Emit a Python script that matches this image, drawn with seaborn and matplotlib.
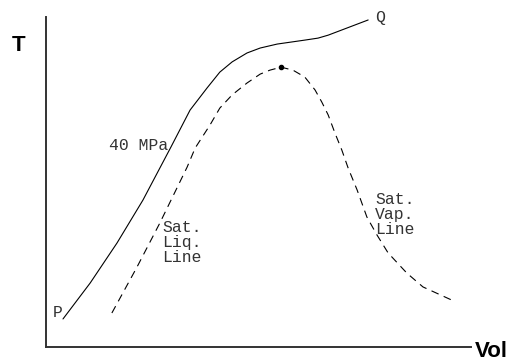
import numpy as np
import pandas as pd
import matplotlib
matplotlib.use('Agg')
import matplotlib.pyplot as plt
import seaborn as sns

# 40 MPa isobar (P -> Q)
iso_vol = [4.0, 10.4, 16.7, 22.8, 29.4, 33.9, 37.9, 40.9, 43.8, 47.3, 50.4, 54.4, 60.9, 64.0, 66.4, 75.8]
iso_T = [8.5, 19.4, 31.5, 44.5, 60.6, 71.8, 78.5, 83.3, 86.4, 89.1, 90.6, 91.8, 93.0, 93.6, 94.5, 99.1]

# saturation dome (liquid side -> critical point -> vapour side)
sat_vol = [15.5, 21.4, 26.8, 33.2, 35.1, 38.6, 40.9, 43.8, 47.3, 50.4, 52.7, 55.3, 58.1, 60.9,
           63.3, 64.9, 66.4, 68.0, 69.6, 71.1, 73.2, 75.5, 77.9, 80.5, 84.9, 88.7, 95.5]
sat_T = [10.3, 24.2, 37.6, 54.5, 60.3, 67.3, 72.4, 76.4, 80.0, 82.7, 83.9, 84.8, 83.9, 81.8,
         77.9, 74.2, 70.3, 64.8, 59.7, 54.2, 47.6, 39.4, 33.9, 28.5, 22.4, 18.2, 14.2]

crit_vol = [55.3]
crit_T = [84.8]

iso = pd.DataFrame({'Vol': iso_vol, 'T': iso_T})
sat = pd.DataFrame({'Vol': sat_vol, 'T': sat_T})

sns.set_style('white')
fig = plt.figure(figsize=(5.17, 3.63), dpi=100)
ax = fig.add_axes([46 / 517, 16 / 363, 425 / 517, 330 / 363])

sns.lineplot(x='Vol', y='T', data=iso, sort=False, estimator=None, color='black', lw=0.8, ax=ax)
sns.lineplot(x='Vol', y='T', data=sat, sort=False, estimator=None, color='black', lw=0.8,
             linestyle=(0, (7, 5)), ax=ax)
ax.plot(crit_vol, crit_T, 'o', color='black', ms=3)

ax.set_xlim(0, 100)
ax.set_ylim(0, 100)
ax.set_xticks([])
ax.set_yticks([])
ax.set_xlabel('')
ax.set_ylabel('')
for s in ['top', 'right']:
    ax.spines[s].set_visible(False)
for s in ['left', 'bottom']:
    ax.spines[s].set_color('#333333')
    ax.spines[s].set_linewidth(1.4)

mono = dict(family='Liberation Mono', fontsize=11.8, color='#333333', linespacing=1.0)
ax.text(28.7, 61.2, '40 MPa', ha='right', va='center', **mono)
ax.text(27.3, 38.5, 'Sat.\nLiq.\nLine', ha='left', va='top', **mono)
ax.text(77.4, 47.0, 'Sat.\nVap.\nLine', ha='left', va='top', **mono)
ax.text(1.6, 8.2, 'P', ha='left', va='bottom', **mono)
ax.text(77.4, 99.7, 'Q', ha='left', va='center', clip_on=False, **mono)

big = dict(family='Liberation Sans', fontsize=16, fontweight='bold', color='black')
ax.text(-6.4, 91.5, 'T', ha='center', va='center', clip_on=False, **big)
ax.text(100.9, -1.5, 'Vol', ha='left', va='center', clip_on=False, **big)

fig.savefig('out.png', dpi=100)
